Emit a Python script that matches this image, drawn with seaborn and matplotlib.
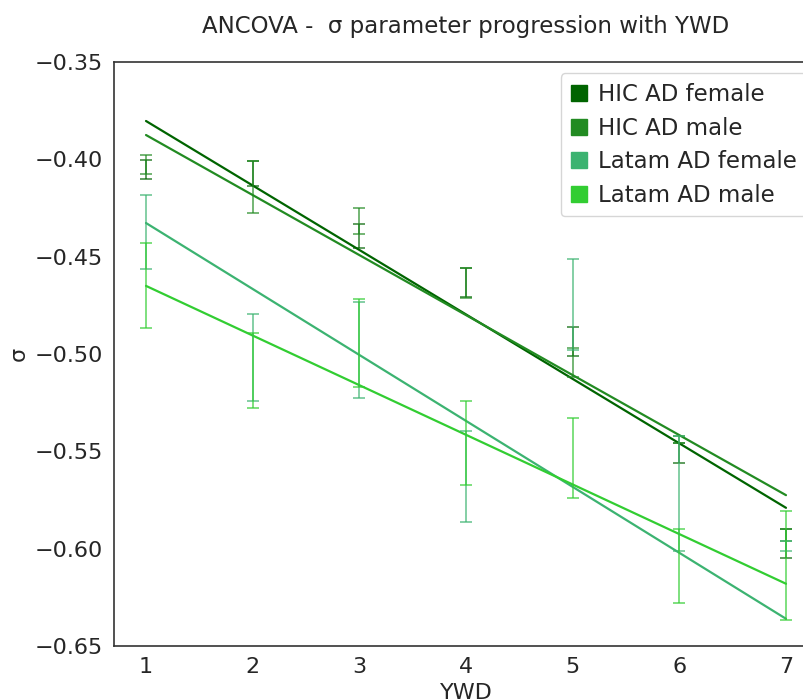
import numpy as np
import pandas as pd
import matplotlib
matplotlib.use("Agg")
import matplotlib.pyplot as plt
from matplotlib.patches import Patch
import seaborn as sns

# ---- data ----
ywd = [1, 2, 3, 4, 5, 6, 7]
groups = ["HIC AD female", "HIC AD male", "Latam AD female", "Latam AD male"]
colors = ["#006400", "#228B22", "#3CB371", "#32CD32"]

# ANCOVA fitted lines (value at YWD=1 and YWD=7)
fit_x = [1, 7]
fit_hic_female = [-0.3803, -0.5790]
fit_hic_male = [-0.3875, -0.5725]
fit_latam_female = [-0.4327, -0.6360]
fit_latam_male = [-0.4650, -0.6180]

# error bar extents (top, bottom) at each YWD
hic_female_top = [-0.4005, -0.4009, -0.4332, -0.4557, -0.4860, -0.5459, -0.5899]
hic_female_bot = [-0.4101, -0.4137, -0.4454, -0.4706, -0.5010, -0.5562, -0.6046]
hic_male_top = [-0.3978, -0.4009, -0.4252, -0.4558, -0.4968, -0.5421, -0.5899]
hic_male_bot = [-0.4077, -0.4274, -0.4384, -0.4711, -0.5117, -0.5459, -0.5961]
latam_female_top = [-0.4183, -0.4796, -0.4731, -0.5394, -0.4514, -0.5421, -0.5961]
latam_female_bot = [-0.4565, -0.5241, -0.5224, -0.5861, -0.4979, -0.6012, -0.6014]
latam_male_top = [-0.4428, -0.4891, -0.4719, -0.5240, -0.5330, -0.5901, -0.5805]
latam_male_bot = [-0.4865, -0.5276, -0.5171, -0.5675, -0.5741, -0.6281, -0.6366]

fits = [fit_hic_female, fit_hic_male, fit_latam_female, fit_latam_male]
tops = [hic_female_top, hic_male_top, latam_female_top, latam_male_top]
bots = [hic_female_bot, hic_male_bot, latam_female_bot, latam_male_bot]

# ---- plot ----
sns.set_style("white")
plt.rcParams["font.family"] = ["DejaVu Sans"]

fig = plt.figure(figsize=(8.04, 7.0), dpi=100)
ax = fig.add_axes([0.1418, 0.0771, 0.8756, 0.8343])

fit_df = pd.concat(
    [pd.DataFrame({"YWD": fit_x, "sigma": f, "group": g}) for g, f in zip(groups, fits)],
    ignore_index=True,
)
sns.lineplot(data=fit_df, x="YWD", y="sigma", hue="group", palette=dict(zip(groups, colors)),
             linewidth=1.6, legend=False, ax=ax)

for g, c, t, b in zip(groups, colors, tops, bots):
    t = np.array(t)
    b = np.array(b)
    mid = (t + b) / 2
    half = (t - b) / 2
    ax.errorbar(ywd, mid, yerr=half, fmt="none", ecolor=c, elinewidth=1.1,
                capsize=4, capthick=1.1, alpha=0.8)

ax.set_xlim(0.7, 7.3)
ax.set_ylim(-0.65, -0.35)
ax.set_xticks(ywd)
ax.set_yticks([-0.65, -0.60, -0.55, -0.50, -0.45, -0.40, -0.35])
ax.tick_params(axis="both", labelsize=16, pad=4.5)
for s in ax.spines.values():
    s.set_color("#333333")
    s.set_linewidth(1.2)

ax.set_xlabel("YWD", fontsize=16, labelpad=4)
ax.set_ylabel("σ", fontsize=16, labelpad=4)
ax.set_title("ANCOVA -  σ parameter progression with YWD", fontsize=16.5, pad=21)

handles = [Patch(facecolor=c, edgecolor=c, label=g) for g, c in zip(groups, colors)]
ax.legend(handles=handles, loc="upper right", fontsize=16.5, handlelength=0.7,
          handleheight=0.7, handletextpad=0.5, labelspacing=0.46, borderpad=0.42)

fig.savefig("out.png", dpi=100)
